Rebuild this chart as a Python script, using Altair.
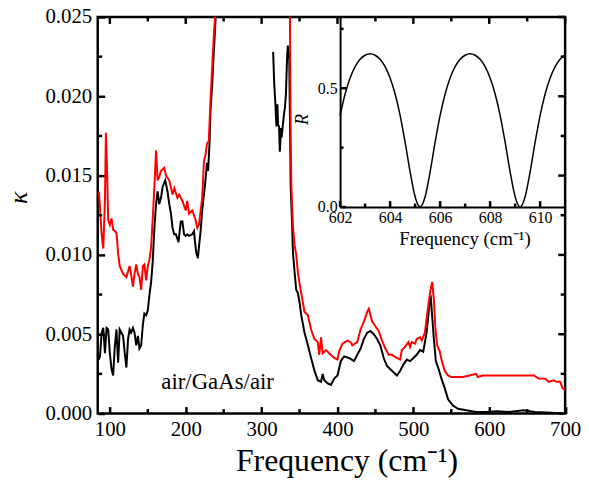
import altair as alt
import pandas as pd

FONT = "Liberation Serif, Times New Roman, Times, serif"

# ---------------- data ----------------
# black curve, first part (low-frequency side)
b1_f = [85.5, 87.0, 89.2, 91.3, 93.5, 95.7, 97.8, 100.0, 102.2, 104.3, 106.5, 108.7, 110.9, 113.0,
        117.4, 119.6, 121.8, 124.0, 126.0, 128.0, 130.4, 132.5, 134.8, 137.0, 139.0, 141.3, 143.5,
        145.5, 147.8, 150.0, 152.2, 154.4, 156.5, 158.7, 160.9, 163.0, 165.0, 167.4, 169.6, 173.0,
        176.0, 178.3, 180.5, 182.6, 184.8, 187.0, 190.5, 192.0, 193.5, 195.6, 197.8, 200.0, 202.0,
        204.3, 208.7, 211.0, 212.0, 214.0, 216.0, 217.4, 219.6, 221.7, 224.0, 226.0, 228.0, 229.5,
        231.5, 232.6, 234.8, 237.0, 239.2, 241.0]
b1_k = [0.0034, 0.0036, 0.0051, 0.0054, 0.0038, 0.0054, 0.0053, 0.0038, 0.0028, 0.0024, 0.0042, 0.0053,
        0.0032, 0.0053, 0.0049, 0.0038, 0.0029, 0.0047, 0.0053, 0.0051, 0.0054, 0.0051, 0.0043, 0.0049,
        0.0041, 0.0043, 0.0056, 0.0063, 0.0062, 0.0065, 0.0075, 0.0083, 0.0096, 0.0117, 0.0132, 0.0140,
        0.0132, 0.0136, 0.0143, 0.0147, 0.0140, 0.0132, 0.0126, 0.0117, 0.0113, 0.0113, 0.0108, 0.0115,
        0.0121, 0.0121, 0.0113, 0.0112, 0.0113, 0.0112, 0.0113, 0.0115, 0.0109, 0.0101, 0.0098, 0.0105,
        0.0115, 0.0128, 0.0138, 0.0147, 0.0158, 0.0153, 0.0172, 0.0191, 0.0207, 0.0228, 0.0247, 0.0275]

# black curve, second part (above the reststrahlen band)
b2_f = [315.2, 316.5, 318.2, 319.5, 320.8, 321.7, 323.0, 324.0, 325.5, 326.3, 327.6, 329.3, 330.7,
        332.0, 332.8, 333.7, 334.6, 335.5, 336.3, 337.2, 338.3, 340.0, 341.3, 343.5, 345.6, 347.8,
        350.0, 352.2, 356.5, 361.0, 365.2, 369.6, 374.0, 378.3, 380.5, 382.6, 387.0, 391.3, 395.7,
        400.0, 404.3, 408.7, 415.2, 421.7, 426.0, 430.4, 434.8, 439.1, 443.5, 447.8, 452.2, 456.5,
        460.9, 465.2, 471.7, 478.3, 482.6, 487.0, 491.3, 495.6, 500.0, 504.3, 508.7, 513.0, 517.4,
        519.6, 521.7, 523.0, 524.8, 527.0, 529.6, 532.6, 537.0, 541.3, 545.7, 552.2, 558.7, 569.6,
        582.6, 595.6, 610.0, 626.0, 645.0, 660.0, 682.0, 695.0]
b2_k = [0.0228, 0.0209, 0.0195, 0.0181, 0.0195, 0.0182, 0.0181, 0.0165, 0.0180, 0.0174, 0.0180, 0.0188,
        0.0193, 0.0201, 0.0213, 0.0226, 0.0232, 0.0224, 0.0228, 0.0191, 0.0143, 0.0122, 0.0101, 0.0089,
        0.0078, 0.0076, 0.0070, 0.0062, 0.0051, 0.0043, 0.0035, 0.0027, 0.0021, 0.0020, 0.0025, 0.0021,
        0.0019, 0.0018, 0.0022, 0.0024, 0.0033, 0.0036, 0.0035, 0.0033, 0.0037, 0.0041, 0.0047, 0.0051,
        0.0052, 0.0050, 0.0047, 0.0043, 0.0035, 0.0030, 0.0027, 0.0024, 0.0027, 0.0031, 0.0034, 0.0033,
        0.0035, 0.0037, 0.0040, 0.0039, 0.0051, 0.0061, 0.0072, 0.0073, 0.0061, 0.0047, 0.0033, 0.0029,
        0.0022, 0.0016, 0.0009, 0.0005, 0.0003, 0.0002, 0.0001, 0.0001, 0.00015, 0.0001, 0.0002, 0.0001,
        0.00005, 0.0]

# red curve
r_f = [85.5, 87.0, 89.0, 91.3, 93.5, 94.8, 96.5, 97.8, 100.0, 102.2, 104.3, 108.7, 110.9, 113.0, 117.4,
       121.8, 126.0, 128.0, 130.4, 132.5, 134.8, 137.0, 139.0, 141.3, 143.5, 145.5, 147.8, 150.0, 152.2,
       154.4, 156.5, 158.7, 160.9, 163.0, 165.0, 167.4, 171.7, 174.0, 178.3, 182.6, 185.0, 189.0, 191.3,
       195.6, 200.0, 202.0, 204.3, 208.7, 213.0, 215.2, 217.4, 221.7, 224.0, 226.0, 228.0, 230.4, 232.6,
       234.8, 237.0, 239.2, 242.0, 335.0, 337.2, 338.3, 339.2, 341.3, 343.5, 345.6, 347.8, 350.0, 352.2,
       356.5, 361.0, 365.2, 369.6, 374.0, 376.0, 378.3, 380.5, 384.8, 389.0, 395.7, 400.0, 402.0, 406.5,
       413.0, 417.4, 419.6, 426.0, 430.4, 434.8, 439.1, 441.3, 443.5, 445.7, 450.0, 454.3, 458.7, 463.0,
       467.4, 471.7, 478.3, 482.6, 484.8, 489.0, 493.5, 495.6, 497.8, 502.2, 504.3, 508.7, 511.0, 515.2,
       519.6, 522.6, 524.8, 527.0, 529.1, 531.3, 534.8, 537.0, 541.3, 545.7, 550.0, 556.5, 565.2, 573.9,
       582.6, 584.8, 591.3, 604.3, 626.0, 647.8, 658.7, 665.2, 673.9, 678.3, 684.8, 689.1, 693.5, 696.5,
       699.5]
r_k = [0.0140, 0.0130, 0.0114, 0.0104, 0.0134, 0.0177, 0.0150, 0.0122, 0.0119, 0.0123, 0.0116, 0.0114,
       0.0101, 0.0093, 0.0088, 0.0086, 0.0093, 0.0088, 0.0080, 0.0088, 0.0094, 0.0088, 0.0086, 0.0078,
       0.0093, 0.0094, 0.0084, 0.0093, 0.0097, 0.0105, 0.0123, 0.0143, 0.0166, 0.0147, 0.0149, 0.0153,
       0.0155, 0.0150, 0.0147, 0.0138, 0.0142, 0.0136, 0.0138, 0.0134, 0.0128, 0.0134, 0.0126, 0.0128,
       0.0122, 0.0117, 0.0119, 0.0136, 0.0159, 0.0163, 0.0170, 0.0172, 0.0197, 0.0218, 0.0238, 0.0254,
       0.0300, 0.0300, 0.0260, 0.0176, 0.0143, 0.0118, 0.0106, 0.0100, 0.0089, 0.0082, 0.0076, 0.0064,
       0.0062, 0.0053, 0.0047, 0.0045, 0.0037, 0.0048, 0.0038, 0.0040, 0.0038, 0.0035, 0.0034, 0.0039,
       0.0044, 0.0046, 0.0045, 0.0043, 0.0045, 0.0053, 0.0058, 0.0064, 0.0066, 0.0062, 0.0058, 0.0055,
       0.0052, 0.0046, 0.0041, 0.0037, 0.0037, 0.0035, 0.0034, 0.0040, 0.0042, 0.0045, 0.0042, 0.0045,
       0.0044, 0.0047, 0.0048, 0.0046, 0.0051, 0.0068, 0.0078, 0.0083, 0.0072, 0.0053, 0.0043, 0.0039,
       0.0034, 0.0027, 0.0024, 0.0023, 0.0023, 0.0023, 0.0024, 0.0025, 0.0023, 0.0024, 0.0024, 0.0024,
       0.0024, 0.0024, 0.0022, 0.0022, 0.0020, 0.0021, 0.0020, 0.0020, 0.0016, 0.0015]

# inset: reflectance
inset_f = [602.0, 602.2, 602.4, 602.6, 602.8, 603.0, 603.2, 603.4, 603.6, 603.8, 604.0, 604.2, 604.4,
           604.6, 604.8, 605.0, 605.2, 605.4, 605.6, 605.8, 606.0, 606.2, 606.4, 606.6, 606.8, 607.0,
           607.2, 607.4, 607.6, 607.8, 608.0, 608.2, 608.4, 608.6, 608.8, 609.0, 609.2, 609.4, 609.6,
           609.8, 610.0, 610.2, 610.4, 610.6, 610.8, 611.0]
inset_R = [0.386, 0.476, 0.543, 0.591, 0.622, 0.639, 0.645, 0.639, 0.622, 0.591, 0.543, 0.476, 0.386,
           0.273, 0.148, 0.043, 0.000, 0.043, 0.148, 0.273, 0.386, 0.476, 0.543, 0.591, 0.622, 0.639,
           0.645, 0.639, 0.622, 0.591, 0.543, 0.476, 0.386, 0.273, 0.148, 0.043, 0.000, 0.043, 0.148,
           0.273, 0.386, 0.476, 0.543, 0.591, 0.622, 0.639]

x_major = [100, 200, 300, 400, 500, 600, 700]
x_minor = [150, 250, 350, 450, 550, 650]
y_major = [0.0, 0.005, 0.010, 0.015, 0.020, 0.025]
y_minor = [0.0025, 0.0075, 0.0125, 0.0175, 0.0225]
ix_major = [602, 604, 606, 608, 610]
ix_minor = [603, 605, 607, 609]
iy_major = [0.0, 0.5]
iy_minor = [0.25, 0.75]

label_text = ["air/GaAs/air"]
label_pos = [242, 0.0020]

# ---------------- layout ----------------
W, H = 471.5, 400
X_DOM, Y_DOM = [84, 700], [0, 0.025]
IX_DOM, IY_DOM = [602, 611], [0, 0.8]
IX0, IY0 = 244.5, 191.7          # inset left edge / bottom edge inside the plot (pixels)
MAJ, MIN = 7, 4.5                # tick lengths in pixels
IMAJ, IMIN = 6, 3.5
TICK_COLOR = "black"
TW = 2.5

xs = alt.Scale(domain=X_DOM, nice=False, zero=False)
ys = alt.Scale(domain=Y_DOM, nice=False, zero=False)
ixs = alt.Scale(domain=IX_DOM, range=[IX0, W], nice=False, zero=False)
iys = alt.Scale(domain=IY_DOM, range=[IY0, 0], nice=False, zero=False)

# pixel -> data-unit conversion for tick lengths
px_x = (X_DOM[1] - X_DOM[0]) / W
px_y = (Y_DOM[1] - Y_DOM[0]) / H
px_ix = (IX_DOM[1] - IX_DOM[0]) / (W - IX0)
px_iy = (IY_DOM[1] - IY_DOM[0]) / IY0


def tick_table(groups):
    rows = []
    for values, base, length in groups:
        for v in values:
            rows.append({"v": v, "a": base, "b": base + length})
    return pd.DataFrame(rows)


def vticks(groups, xscale, yscale):
    return alt.Chart(tick_table(groups)).mark_rule(color=TICK_COLOR, strokeWidth=TW).encode(
        x=alt.X("v:Q", scale=xscale, axis=None),
        y=alt.Y("a:Q", scale=yscale, axis=None),
        y2="b:Q",
    )


def hticks(groups, xscale, yscale):
    return alt.Chart(tick_table(groups)).mark_rule(color=TICK_COLOR, strokeWidth=TW).encode(
        y=alt.Y("v:Q", scale=yscale, axis=None),
        x=alt.X("a:Q", scale=xscale, axis=None),
        x2="b:Q",
    )


black = pd.DataFrame({
    "f": b1_f + b2_f,
    "k": b1_k + b2_k,
    "seg": ["a"] * len(b1_f) + ["b"] * len(b2_f),
})
red = pd.DataFrame({"f": r_f, "k": r_k})
inset = pd.DataFrame({"fi": inset_f, "R": inset_R})
lab = pd.DataFrame({"f": [label_pos[0]], "k": [label_pos[1]], "t": label_text})

# labelled axes carry the inward major ticks (axis line shifted inward by the tick length)
bottom_lab = alt.Axis(orient="bottom", values=x_major, format="d", ticks=True, tickSize=MAJ,
                      tickWidth=TW, tickColor="black", offset=-MAJ,
                      domain=False, grid=False, labelFlush=False, labelFont=FONT, labelFontSize=21,
                      labelColor="black", labelPadding=5, title="Frequency (cm⁻¹)", titleFont=FONT,
                      titleFontSize=32, titleFontWeight="normal", titleColor="black",
                      titleX=251, titleY=57 + MAJ, titleAlign="center", titleBaseline="alphabetic")
left_lab = alt.Axis(orient="left", values=y_major, format=".3f", ticks=True, tickSize=MAJ,
                    tickWidth=TW, tickColor="black", offset=-MAJ,
                    domain=False, grid=False, labelFlush=False, labelFont=FONT, labelFontSize=21,
                    labelColor="black", labelPadding=6, title="κ", titleFont=FONT, titleFontSize=26,
                    titleFontStyle="italic", titleFontWeight="normal", titleColor="black",
                    titleAngle=270, titleX=-80 - MAJ, titleY=182, titleAlign="center",
                    titleBaseline="middle")

l_black = alt.Chart(black).mark_line(clip=True, color="black", strokeWidth=2).encode(
    x=alt.X("f:Q", scale=xs, axis=bottom_lab),
    y=alt.Y("k:Q", scale=ys, axis=left_lab),
    detail="seg:N",
)
l_red = alt.Chart(red).mark_line(clip=True, color="#ff0000", strokeWidth=2).encode(
    x=alt.X("f:Q", scale=xs, axis=None),
    y=alt.Y("k:Q", scale=ys, axis=None),
)
l_text = alt.Chart(lab).mark_text(font=FONT, fontSize=23, align="center", baseline="middle",
                                  color="black").encode(
    x=alt.X("f:Q", scale=xs, axis=None),
    y=alt.Y("k:Q", scale=ys, axis=None),
    text="t:N",
)

ibottom_lab = alt.Axis(orient="bottom", values=ix_major, format="d", ticks=False, tickSize=0,
                       domain=True, domainColor="black", domainWidth=2, grid=False,
                       labelFlush=False, offset=-(H - IY0), labelFont=FONT, labelFontSize=16,
                       labelColor="black", labelPadding=3, title="Frequency (cm⁻¹)", titleFont=FONT,
                       titleFontSize=19, titleFontWeight="normal", titleColor="black",
                       titleX=370, titleY=23, titleAlign="center", titleBaseline="top")
ileft_lab = alt.Axis(orient="left", values=iy_major, format=".1f", ticks=False, tickSize=0,
                     domain=True, domainColor="black", domainWidth=2, grid=False, labelFlush=False,
                     offset=-IX0, labelFont=FONT, labelFontSize=16, labelColor="black",
                     labelPadding=3, title="R", titleFont=FONT, titleFontSize=18,
                     titleFontStyle="italic", titleFontWeight="normal", titleColor="black",
                     titleAngle=270, titleX=-38, titleY=103, titleAlign="center",
                     titleBaseline="middle")

l_inset = alt.Chart(inset).mark_line(color="black", strokeWidth=1.5, interpolate="monotone").encode(
    x=alt.X("fi:Q", scale=ixs, axis=ibottom_lab),
    y=alt.Y("R:Q", scale=iys, axis=ileft_lab),
)

tick_layers = [
    vticks([(x_minor, Y_DOM[0], MIN * px_y),
            (x_major, Y_DOM[1], -MAJ * px_y), (x_minor, Y_DOM[1], -MIN * px_y)], xs, ys),
    hticks([(y_minor, X_DOM[0], MIN * px_x),
            (y_major, X_DOM[1], -MAJ * px_x), (y_minor, X_DOM[1], -MIN * px_x)], xs, ys),
    vticks([(ix_major, IY_DOM[0], IMAJ * px_iy), (ix_minor, IY_DOM[0], IMIN * px_iy)], ixs, iys),
    hticks([(iy_major, IX_DOM[0], IMAJ * px_ix), (iy_minor, IX_DOM[0], IMIN * px_ix)], ixs, iys),
]

chart = (
    alt.layer(l_black, l_red, l_text, l_inset, *tick_layers)
    .resolve_scale(x="independent", y="independent")
    .resolve_axis(x="independent", y="independent")
    .properties(
        width=W,
        height=H,
        padding={"left": 90.5, "top": 7, "right": 16, "bottom": 65},
        autosize=alt.AutoSizeParams(type="none"),
    )
    .configure(font=FONT)
    .configure_view(stroke="black", strokeWidth=2.5)
)

chart.save("out.html", embed_options={"renderer": "svg", "actions": False})
